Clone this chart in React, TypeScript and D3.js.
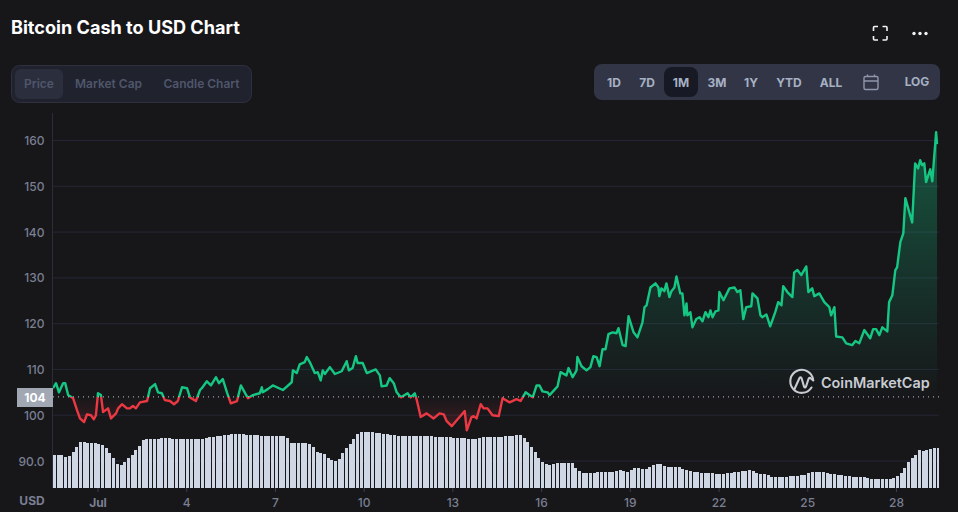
import * as d3 from 'd3';

const WIDTH = 958;
const HEIGHT = 512;

// price samples (day of July, USD)
const priceDays = [
  -0.52, -0.42, -0.32, -0.18, -0.11, -0.01, 0.16, 0.29, 0.39, 0.53, 0.63, 0.76, 0.86, 0.93, 1.0, 1.1, 1.17, 1.34, 1.44,
  1.61, 1.68, 1.81, 1.98, 2.08, 2.18, 2.28, 2.42, 2.66, 2.76, 2.93, 3.03, 3.16, 3.26, 3.43, 3.57, 3.7, 3.84, 4.01, 4.11,
  4.31, 4.45, 4.51, 4.68, 4.82, 4.99, 5.09, 5.22, 5.36, 5.49, 5.7, 5.83, 6.07, 6.24, 6.47, 6.54, 6.57, 6.74, 6.91, 7.25,
  7.55, 7.59, 7.72, 7.82, 7.99, 8.06, 8.16, 8.33, 8.43, 8.53, 8.6, 8.67, 8.84, 9.01, 9.24, 9.41, 9.48, 9.61, 9.72, 9.78,
  9.95, 10.09, 10.39, 10.53, 10.59, 10.76, 10.86, 11.0, 11.1, 11.24, 11.47, 11.57, 11.71, 11.78, 11.91, 12.11, 12.35,
  12.55, 12.69, 12.79, 12.96, 13.13, 13.4, 13.47, 13.63, 13.7, 13.8, 13.94, 14.04, 14.17, 14.34, 14.55, 14.68, 14.92,
  15.15, 15.29, 15.46, 15.7, 15.83, 15.93, 16.03, 16.2, 16.27, 16.54, 16.64, 16.84, 16.91, 17.05, 17.18, 17.21, 17.35,
  17.52, 17.65, 17.75, 17.86, 17.96, 18.06, 18.16, 18.26, 18.4, 18.53, 18.6, 18.74, 18.84, 18.94, 19.11, 19.24, 19.41,
  19.48, 19.55, 19.68, 19.85, 19.95, 19.98, 20.05, 20.15, 20.22, 20.32, 20.39, 20.49, 20.56, 20.69, 20.76, 20.83, 20.9,
  20.93, 21.03, 21.1, 21.23, 21.34, 21.44, 21.54, 21.64, 21.71, 21.78, 21.88, 21.98, 22.01, 22.15, 22.35, 22.52, 22.62,
  22.72, 22.82, 22.92, 23.09, 23.13, 23.3, 23.4, 23.46, 23.6, 23.73, 23.9, 24.0, 24.11, 24.17, 24.31, 24.48, 24.54,
  24.65, 24.78, 24.95, 25.02, 25.15, 25.22, 25.39, 25.56, 25.73, 25.79, 25.9, 25.96, 26.17, 26.3, 26.5, 26.61, 26.74,
  26.91, 27.11, 27.21, 27.31, 27.42, 27.52, 27.69, 27.75, 27.86, 27.96, 28.02, 28.13, 28.23, 28.3, 28.53, 28.63, 28.73,
  28.8, 28.87, 28.94, 29.0, 29.14, 29.21, 29.34, 29.37
];

const prices = [
  105.9, 107, 105, 107, 107, 104.4, 103.7, 101.1, 99.3, 98.5, 100.2, 100, 99.1, 100, 104.8, 104.4, 100.7, 101.5, 99.3,
  100.4, 101.5, 102.4, 101.5, 101.5, 102, 101.5, 102.8, 103.1, 105.9, 106.8, 105, 104.8, 103.3, 103.1, 102.4, 103.1,
  106.1, 105.9, 103.9, 103.1, 105.5, 105.9, 107.4, 106.5, 108.3, 107, 107.9, 105, 102.6, 103.1, 106.5, 103.7, 104.4,
  104.8, 106.1, 105, 105.7, 106.5, 105.5, 107.2, 109.8, 109.2, 111.1, 111.6, 112.7, 111.6, 109.2, 109.4, 107.6, 109.8,
  109, 110.5, 109, 109.6, 111.8, 109.8, 110.3, 112.9, 111.4, 111.4, 109.2, 110, 108.7, 106.3, 106.5, 108.1, 107, 105,
  103.9, 104.8, 103.9, 104.8, 103.3, 99.6, 100.4, 99.3, 100.4, 100.2, 98.7, 97.6, 98.9, 100.9, 96.7, 99.6, 99.8, 99.3,
  102.4, 101.5, 101.5, 100, 99.8, 103.7, 102.8, 103.5, 103.1, 105, 103.9, 106.5, 106.5, 105.2, 105, 104.4, 106.3, 109.4,
  108.7, 110.3, 108.3, 109.8, 112.7, 110.7, 109.8, 110.5, 112.9, 112.7, 110.7, 114.4, 114.4, 117.7, 118.1, 117.9, 119,
  115.3, 115.1, 121.6, 118.1, 117, 120.3, 123.6, 124, 127.9, 128.8, 127.9, 126, 127.7, 127.1, 128.8, 125.8, 127.1,
  127.9, 130.3, 126.6, 126.6, 121.8, 124.4, 121.8, 122.5, 119.2, 121, 121.4, 120.5, 122.5, 121.4, 122.9, 121.4, 122.7,
  122.9, 126.9, 125.1, 127.7, 127.9, 126.9, 127.3, 121, 123.6, 123.8, 126.6, 125.5, 121.8, 121.4, 122, 119.4, 122.5,
  124.7, 124, 128.2, 126.9, 125.8, 131.2, 131.7, 130.6, 132.5, 126.9, 127.7, 126, 126.6, 124.7, 123.6, 121.8, 123.6,
  117.2, 117, 115.7, 115.3, 116.2, 115.7, 118.6, 116.8, 118.8, 118.8, 117.5, 119.2, 118.3, 124.7, 126.2, 131.7, 132.3,
  137.8, 139.7, 147.4, 142.1, 155, 153.9, 155.7, 154.6, 155, 150.9, 153.7, 151.1, 161.8, 159.2
];

// one bar every three hours, relative heights (volume axis is hidden in the original)
const volumes = [
  33, 33, 33, 31, 32, 36, 41, 46, 46, 45, 45, 45, 44.5, 43, 40, 35, 30, 24, 23, 26, 30, 33, 38, 42, 48, 49.5, 49.5, 49.5,
  49.5, 50, 50, 50, 49.5, 49.5, 49.5, 49.5, 49.5, 49.5, 49.5, 49, 49, 50, 51, 51, 52, 52, 53, 53.5, 54, 54, 54, 54, 53.5,
  53.5, 53, 53, 52, 52.5, 52.5, 52.5, 52.5, 52.5, 52, 50, 44.7, 45, 45, 45, 45.5, 44, 41, 36, 35, 34, 30, 28, 27, 29, 35,
  40, 44, 49, 54, 56, 56, 56, 56, 55, 55, 54.5, 54, 53.5, 53, 52.5, 52, 52, 52, 52, 52, 52, 52, 52, 52, 51.5, 51.5, 51,
  51, 51, 50.5, 50.5, 50, 50, 49.5, 49.5, 49.5, 50.5, 51, 51, 51, 51, 51, 51, 52, 52, 52.5, 53, 53, 50, 46, 41, 36, 30,
  26, 24, 23, 24, 25, 25, 25, 25.5, 25.5, 20, 17, 15.5, 15.5, 15.5, 15.5, 16, 16, 16, 16, 16.5, 17.5, 18, 17, 16, 18, 20,
  20, 19.5, 19, 21, 23, 24, 24, 22, 21, 21, 21, 21, 19.5, 18, 17, 16, 15.7, 15.5, 15, 15, 15, 14.5, 14, 14.5, 15, 15.5,
  16, 16, 17, 17.5, 18, 17, 15.5, 14.5, 14, 13, 11.5, 11, 10.7, 10.7, 11.5, 12, 12, 12.5, 13, 13, 15, 16, 16, 16, 16,
  15.5, 14.5, 14, 13.5, 13, 12.5, 12, 11.5, 11, 11, 10.7, 10, 9, 9, 9, 9, 9, 9, 10.5, 12, 15, 20, 26, 30, 33, 38, 37, 38,
  39.5, 40, 40
];

const yTicks = [160, 150, 140, 130, 120, 110, 100, 90];
const dayTicks = [1, 4, 7, 10, 13, 16, 19, 22, 25, 28];
const basePrice = 104;
const chartTabs = ['Price', 'Market Cap', 'Candle Chart'];
const rangeTabs = ['1D', '7D', '1M', '3M', '1Y', 'YTD', 'ALL'];
const rangeTabX = [614, 647, 681, 717, 751, 789, 831];

const GREEN = '#16c784';
const RED = '#ea3943';
const FONT = 'Inter, "Noto Sans", sans-serif';

const x = d3.scaleLinear().domain([1, 28]).range([98, 896.5]);
const y = d3.scaleLinear().domain([90, 160]).range([461, 140.5]);
const volY = d3.scaleLinear().domain([0, 56]).range([488, 432]);

const points = priceDays.map((d, i) => ({ day: d, price: prices[i] }));

const line = d3
  .line<{ day: number; price: number }>()
  .x((d) => x(d.day))
  .y((d) => y(d.price));

const area = d3
  .area<{ day: number; price: number }>()
  .x((d) => x(d.day))
  .y0(y(basePrice))
  .y1((d) => y(d.price));

const left = 53;
const right = 939;

export default function App() {
  const baseY = y(basePrice);
  return (
    <svg
      width={WIDTH}
      height={HEIGHT}
      style={{ position: 'absolute', left: 0, top: 0, display: 'block', fontFamily: FONT }}
    >
      <defs>
        <clipPath id="above">
          <rect x={left} y={0} width={right - left} height={baseY} />
        </clipPath>
        <clipPath id="below">
          <rect x={left} y={baseY} width={right - left} height={HEIGHT - baseY} />
        </clipPath>
        <linearGradient id="greenFill" gradientUnits="userSpaceOnUse" x1={0} x2={0} y1={y(162)} y2={baseY}>
          <stop offset="0%" stopColor={GREEN} stopOpacity={0.36} />
          <stop offset="100%" stopColor={GREEN} stopOpacity={0} />
        </linearGradient>
        <linearGradient id="redFill" gradientUnits="userSpaceOnUse" x1={0} x2={0} y1={baseY} y2={y(96)}>
          <stop offset="0%" stopColor={RED} stopOpacity={0} />
          <stop offset="100%" stopColor={RED} stopOpacity={0.22} />
        </linearGradient>
      </defs>

      <rect width={WIDTH} height={HEIGHT} fill="#17171a" />

      <text x={11} y={34} fill="#ffffff" fontSize={18.1} fontWeight={700}>
        Bitcoin Cash to USD Chart
      </text>

      {/* fullscreen icon */}
      <path
        d="M873.5 31V27.5Q873.5 26.5 874.5 26.5H878M882.5 26.5H886Q887 26.5 887 27.5V31M887 36V39Q887 40 886 40H882.5M878 40H874.5Q873.5 40 873.5 39V36"
        fill="none"
        stroke="#f2f3f5"
        strokeWidth={1.6}
      />
      {[914, 920, 926].map((cx) => (
        <circle key={cx} cx={cx} cy={33.5} r={1.7} fill="#f2f3f5" />
      ))}

      {/* chart type tabs */}
      <rect x={11.5} y={65.5} width={240} height={37} rx={8} fill="#20222d" stroke="#2e3040" />
      <rect x={15} y={69} width={48} height={30} rx={6} fill="#2b2e3d" />
      {chartTabs.map((t, i) => (
        <text
          key={t}
          x={[39, 108.5, 201.5][i]}
          y={88}
          textAnchor="middle"
          fill="#4f566b"
          fontSize={12}
          fontWeight={600}
        >
          {t}
        </text>
      ))}

      {/* range tabs */}
      <rect x={594} y={64} width={346} height={36} rx={8} fill="#323546" />
      <rect x={664} y={67} width={34} height={30} rx={8} fill="#171924" />
      {rangeTabs.map((t, i) => (
        <text
          key={t}
          x={rangeTabX[i]}
          y={87}
          textAnchor="middle"
          fill="#a6b0c3"
          fontSize={12}
          fontWeight={700}
        >
          {t}
        </text>
      ))}
      <g fill="none" stroke="#8f96a9" strokeWidth={1.4}>
        <rect x={864} y={76.5} width={14} height={13} rx={1.5} />
        <path d="M864 81H878M867.5 74.5V77M874.5 74.5V77" />
      </g>
      <text x={917} y={86} textAnchor="middle" fill="#a6b0c3" fontSize={12} fontWeight={700}>
        LOG
      </text>

      {/* grid and axes */}
      <line x1={52.5} x2={52.5} y1={113} y2={488} stroke="#2b2c3c" />
      {yTicks.map((t) => (
        <line key={t} x1={left} x2={right} y1={y(t)} y2={y(t)} stroke="#262736" />
      ))}
      {yTicks.map((t) => (
        <text key={t} x={44.5} y={y(t) + 4.5} textAnchor="end" fill="#7a7f92" fontSize={12} fontWeight={500}>
          {t === 90 ? '90.0' : t}
        </text>
      ))}

      {/* volume */}
      {volumes.map((v, i) => {
        const bx = Math.round(x(-0.52 + i / 8));
        return (
          <rect
            key={i}
            x={bx}
            y={volY(v)}
            width={Math.min(3, right - bx)}
            height={volY(0) - volY(v)}
            fill="#cfd6e4"
            shapeRendering="crispEdges"
          />
        );
      })}

      {/* price */}
      <path d={area(points) ?? ''} fill="url(#greenFill)" clipPath="url(#above)" />
      <path d={area(points) ?? ''} fill="url(#redFill)" clipPath="url(#below)" />
      <path
        d={line(points) ?? ''}
        fill="none"
        stroke={GREEN}
        strokeWidth={2.4}
        strokeLinejoin="round"
        clipPath="url(#above)"
      />
      <path
        d={line(points) ?? ''}
        fill="none"
        stroke={RED}
        strokeWidth={2.4}
        strokeLinejoin="round"
        clipPath="url(#below)"
      />

      {/* base line and tag */}
      <line x1={left} x2={right} y1={baseY} y2={baseY} stroke="#c4c7cf" strokeWidth={1} strokeDasharray="1 4" />
      <rect x={17} y={388} width={36} height={19} fill="#a1a7b3" />
      <text x={35} y={401.5} textAnchor="middle" fill="#ffffff" fontSize={12} fontWeight={700}>
        {basePrice}
      </text>

      {/* x axis */}
      {dayTicks.map((d) => (
        <g key={d}>
          <line x1={x(d)} x2={x(d)} y1={488} y2={492} stroke="#3a3d4d" />
          <text
            x={x(d)}
            y={506.5}
            textAnchor="middle"
            fill="#7a7f92"
            fontSize={12}
            fontWeight={d === 1 ? 700 : 500}
          >
            {d === 1 ? 'Jul' : d}
          </text>
        </g>
      ))}
      <text x={32} y={505} textAnchor="middle" fill="#7a7f92" fontSize={12} fontWeight={700}>
        USD
      </text>

      {/* watermark */}
      <g fill="none" stroke="#c9ccd3" strokeWidth={2.1} strokeLinecap="round" strokeLinejoin="round">
        <path d="M811.5 387.5A11.5 11.5 0 1 1 813.2 380" />
        <path d="M794.5 389L799.5 378Q800.5 376.5 801.5 378L804 386.5Q805 388.5 806 386.5L808.5 379Q809.5 377 811 378.5L813.2 380.5" />
      </g>
      <text x={821} y={388} fill="#c9ccd3" fontSize={14.4} fontWeight={600}>
        CoinMarketCap
      </text>
    </svg>
  );
}
